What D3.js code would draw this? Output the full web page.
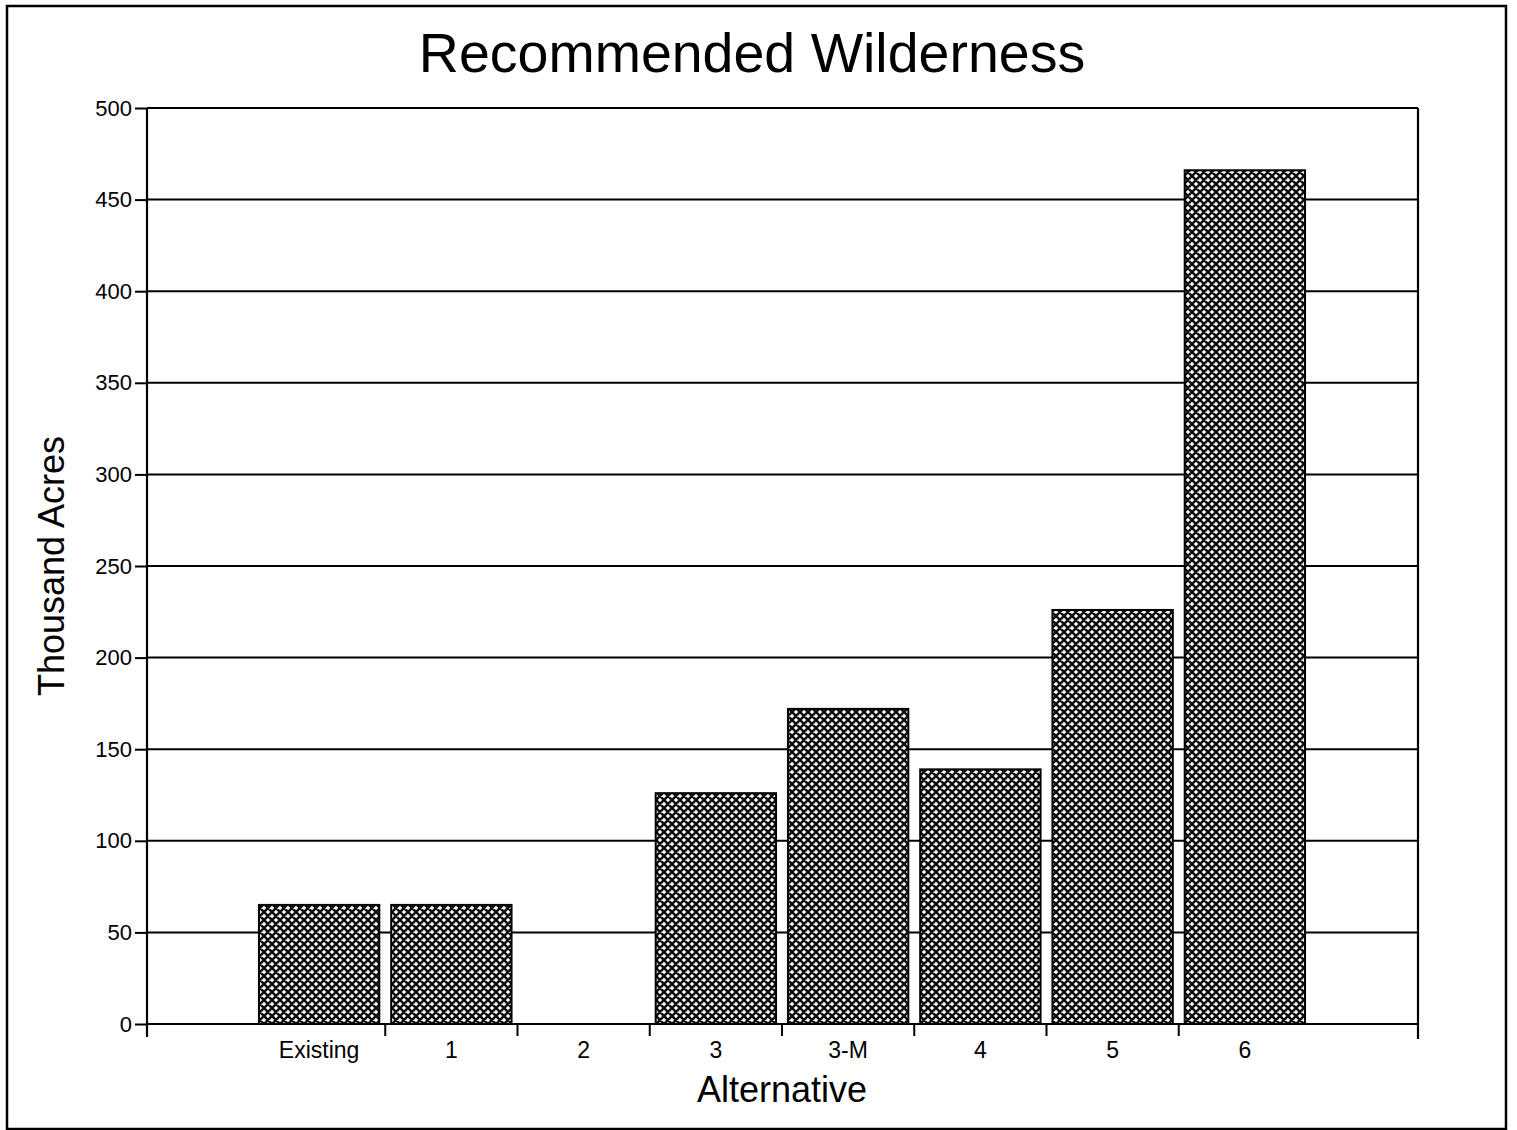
<!DOCTYPE html>
<html>
<head>
<meta charset="utf-8">
<script src="https://cdn.jsdelivr.net/npm/d3@7/dist/d3.min.js"></script>
<style>
  html, body { margin: 0; padding: 0; background: #fff; }
  svg { display: block; }
  text { font-family: "Liberation Sans", Arial, Helvetica, sans-serif; fill: #000; }
</style>
</head>
<body>
<svg id="chart" width="1517" height="1130"></svg>
<script>
// Recommended wilderness acreage by alternative (thousand acres)
const categories = ["Existing", "1", "2", "3", "3-M", "4", "5", "6"];
const acres = [65, 65, 0, 126, 172, 139, 226, 466];
const yTicks = [0, 50, 100, 150, 200, 250, 300, 350, 400, 450, 500];

(function () {
  const svg = d3.select("#chart");

  // plot area
  const pLeft = 147, pRight = 1418, pTop = 108, pBottom = 1024;

  // outer frame
  svg.append("rect")
    .attr("x", 7).attr("y", 6)
    .attr("width", 1499).attr("height", 1123)
    .attr("fill", "none").attr("stroke", "#000").attr("stroke-width", 2.5);

  // crosshatch fill for bars
  const defs = svg.append("defs");
  const pat = defs.append("pattern")
    .attr("id", "hatch")
    .attr("patternUnits", "userSpaceOnUse")
    .attr("width", 8).attr("height", 8);
  pat.append("rect").attr("width", 8).attr("height", 8).attr("fill", "#fff");
  pat.append("path")
    .attr("d", "M-2,-2L10,10M10,-2L-2,10M-2,6L2,10M6,-2L10,2M-2,2L2,-2M6,10L10,6")
    .attr("stroke", "#111")
    .attr("stroke-width", 2.6)
    .attr("fill", "none");

  const y = d3.scaleLinear().domain([0, 500]).range([pBottom, pTop]);
  const x = d3.scaleBand()
    .domain(categories)
    .range([pLeft + 106, pLeft + 106 + 1058])
    .paddingInner(0.09)
    .paddingOuter(0.045);

  // title
  svg.append("text")
    .attr("x", 752).attr("y", 72)
    .attr("text-anchor", "middle")
    .attr("font-size", 55.5)
    .text("Recommended Wilderness");

  // left ticks and labels
  const yAxis = d3.axisLeft(y)
    .tickValues(yTicks)
    .tickSize(12)
    .tickPadding(3)
    .tickFormat(d3.format("d"));
  const gy = svg.append("g").attr("transform", `translate(${pLeft},0)`).call(yAxis);
  gy.select(".domain").remove();
  gy.selectAll(".tick line").attr("stroke", "#000").attr("stroke-width", 2);
  gy.selectAll(".tick text").attr("font-size", 22).attr("fill", "#000")
    .style("font-family", '"Liberation Sans", Arial, sans-serif');

  // horizontal gridlines
  svg.append("g")
    .selectAll("line")
    .data(yTicks)
    .join("line")
    .attr("x1", pLeft).attr("x2", pRight)
    .attr("y1", d => y(d)).attr("y2", d => y(d))
    .attr("stroke", "#000").attr("stroke-width", 2);

  // bars
  svg.append("g")
    .selectAll("rect")
    .data(categories.map((c, i) => ({ c, v: acres[i] })).filter(d => d.v > 0))
    .join("rect")
    .attr("x", d => x(d.c))
    .attr("y", d => y(d.v))
    .attr("width", x.bandwidth())
    .attr("height", d => y(0) - y(d.v))
    .attr("fill", "url(#hatch)")
    .attr("stroke", "#000")
    .attr("stroke-width", 2);

  // axis frame
  svg.append("line")
    .attr("x1", pLeft).attr("x2", pLeft)
    .attr("y1", pTop).attr("y2", pBottom + 13)
    .attr("stroke", "#000").attr("stroke-width", 2.2);
  svg.append("line")
    .attr("x1", pRight).attr("x2", pRight)
    .attr("y1", pTop).attr("y2", pBottom + 15)
    .attr("stroke", "#000").attr("stroke-width", 2.2);
  svg.append("line")
    .attr("x1", pLeft).attr("x2", pRight)
    .attr("y1", pBottom).attr("y2", pBottom)
    .attr("stroke", "#000").attr("stroke-width", 2.2);

  // category separators below the axis
  const step = x.step();
  const seps = categories.slice(0, -1).map(c => x(c) + x.bandwidth() + (step - x.bandwidth()) / 2);
  svg.append("g")
    .selectAll("line")
    .data(seps)
    .join("line")
    .attr("x1", d => d).attr("x2", d => d)
    .attr("y1", pBottom).attr("y2", pBottom + 12)
    .attr("stroke", "#000").attr("stroke-width", 2);

  // category labels
  svg.append("g")
    .selectAll("text")
    .data(categories)
    .join("text")
    .attr("x", d => x(d) + x.bandwidth() / 2)
    .attr("y", 1058)
    .attr("text-anchor", "middle")
    .attr("font-size", 23)
    .text(d => d);

  // axis titles
  svg.append("text")
    .attr("x", 782).attr("y", 1102)
    .attr("text-anchor", "middle")
    .attr("font-size", 36)
    .text("Alternative");

  svg.append("text")
    .attr("transform", `translate(64,${(pTop + pBottom) / 2}) rotate(-90)`)
    .attr("text-anchor", "middle")
    .attr("font-size", 36)
    .text("Thousand Acres");
})();
</script>
</body>
</html>
